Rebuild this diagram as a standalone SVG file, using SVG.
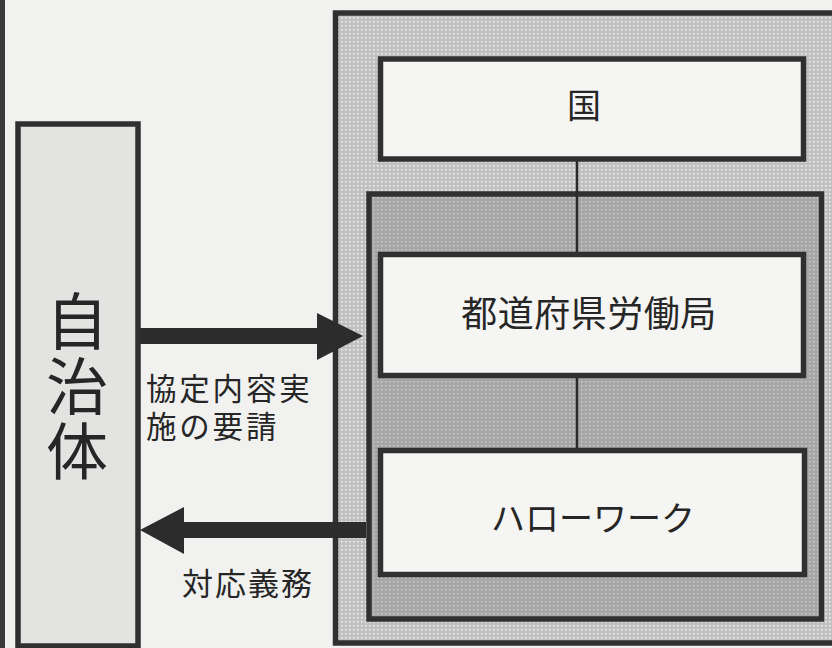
<svg xmlns="http://www.w3.org/2000/svg" width="832" height="648" viewBox="0 0 832 648">
<style>
.box{stroke:#303030;stroke-width:5.5}
.white{fill:#f5f5f3}
.t{font-family:"Noto Sans CJK JP","Noto Sans CJK SC",sans-serif;fill:#262626}
.tl{font-family:"Liberation Sans","Noto Sans CJK JP","Noto Sans CJK SC",sans-serif;fill:#262626}
.c{text-anchor:middle}
.conn{stroke:#2a2a2a;stroke-width:2.5;fill:none}
.arrow{fill:#2c2c2c}
</style>
<defs>
<pattern id="dotLight" width="4" height="4" patternUnits="userSpaceOnUse">
<rect width="4" height="4" fill="#c0c0c0"/>
<rect x="1" y="1" width="1.6" height="1.6" fill="#f0f0f0"/>
</pattern>
<pattern id="dotDark" width="4" height="4" patternUnits="userSpaceOnUse">
<rect width="4" height="4" fill="#a6a6a6"/>
<rect x="1" y="1" width="1.5" height="1.5" fill="#cbcbcb"/>
</pattern>
</defs>
<rect width="832" height="648" fill="#f1f1ef"/>
<line x1="2.5" y1="0" x2="2.5" y2="648" stroke="#3a3a3a" stroke-width="5"/>

<g id="jichitai">
<rect class="box" x="18" y="124" width="120" height="522" fill="#e3e3e1"/>
<text class="t" x="77" y="290" font-size="62" writing-mode="vertical-rl" letter-spacing="3">自治体</text>
</g>

<g id="outer">
<rect class="box" x="335.5" y="13" width="520" height="630" fill="url(#dotLight)"/>
</g>

<g id="inner">
<rect class="box" x="369" y="194" width="452.5" height="425" fill="url(#dotDark)"/>
</g>

<g id="connectors">
<line class="conn" x1="577" y1="159" x2="577" y2="255"/>
<line class="conn" x1="577" y1="375" x2="577" y2="451"/>
<polygon class="arrow" points="140,328 317,328 317,313 363,336 317,360 317,344 140,344"/>
<polygon class="arrow" points="366,522 184,522 184,507 140,530 184,554 184,538 366,538"/>
</g>

<g id="kuni">
<rect class="box white" x="380.5" y="59" width="423" height="100"/>
<text class="t c" x="584" y="118" font-size="34">国</text>
</g>

<g id="roudoukyoku">
<rect class="box white" x="380.5" y="254.5" width="423" height="121"/>
<text class="t c" x="589" y="327" font-size="36" letter-spacing="0.5">都道府県労働局</text>
</g>

<g id="hellowork">
<rect class="box white" x="380.5" y="450.5" width="424" height="124"/>
<text class="t c" x="593" y="531" font-size="34">ハローワーク</text>
</g>

<g id="labels">
<text class="tl" x="146" y="400" font-size="30.5" letter-spacing="2.8">協定内容実</text>
<text class="tl" x="146" y="438" font-size="30.5" letter-spacing="2.8">施の要請</text>
<text class="t" x="182" y="595" font-size="31" letter-spacing="2">対応義務</text>
</g>
</svg>
